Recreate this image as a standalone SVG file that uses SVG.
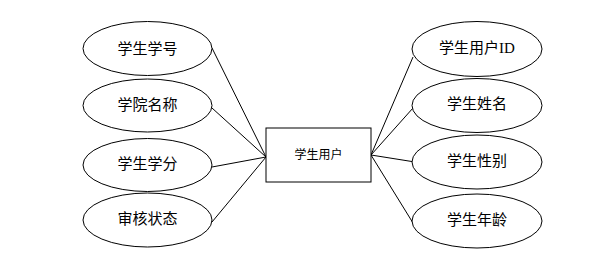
<svg xmlns="http://www.w3.org/2000/svg" width="602" height="268" viewBox="0 0 602 268">
<style>
.e{fill:#fff;stroke:#000;stroke-width:1}
.r{fill:#fff;stroke:#000;stroke-width:1}
.t{font-family:"Liberation Serif","Noto Sans CJK SC",serif;font-size:15px;fill:#000;text-anchor:middle;dominant-baseline:central}
.s{font-size:12px}
.c line{stroke:#000;stroke-width:1}
</style>
<rect width="602" height="268" fill="#fff"/>
<g class="c" id="connectors">
<line x1="212" y1="48" x2="266" y2="157"/>
<line x1="212" y1="108" x2="266" y2="157"/>
<line x1="212" y1="167" x2="266" y2="157"/>
<line x1="212" y1="222" x2="266" y2="157"/>
<line x1="371" y1="155" x2="413" y2="57"/>
<line x1="371" y1="155" x2="413" y2="108"/>
<line x1="371" y1="155" x2="415" y2="162"/>
<line x1="371" y1="155" x2="413" y2="223"/>
</g>
<g id="center"><rect class="r" x="266" y="128" width="105" height="54"/><text class="t s" x="318.5" y="155">学生用户</text></g>
<g id="l1"><ellipse class="e" cx="147.5" cy="48.5" rx="64.5" ry="27"/><text class="t" x="147.5" y="48.5">学生学号</text></g>
<g id="l2"><ellipse class="e" cx="147.5" cy="105.5" rx="64.5" ry="26.5"/><text class="t" x="147.5" y="105">学院名称</text></g>
<g id="l3"><ellipse class="e" cx="147.5" cy="165" rx="64.5" ry="26.5"/><text class="t" x="147.5" y="164">学生学分</text></g>
<g id="l4"><ellipse class="e" cx="147.5" cy="220" rx="64.5" ry="27"/><text class="t" x="147.5" y="219">审核状态</text></g>
<g id="r1"><ellipse class="e" cx="477" cy="49" rx="65" ry="27.5"/><text class="t" x="477" y="48">学生用户ID</text></g>
<g id="r2"><ellipse class="e" cx="477" cy="105.5" rx="65" ry="27"/><text class="t" x="477" y="104">学生姓名</text></g>
<g id="r3"><ellipse class="e" cx="477" cy="162" rx="65" ry="27"/><text class="t" x="477" y="161">学生性别</text></g>
<g id="r4"><ellipse class="e" cx="477" cy="221" rx="65" ry="27"/><text class="t" x="477" y="220">学生年龄</text></g>
</svg>
